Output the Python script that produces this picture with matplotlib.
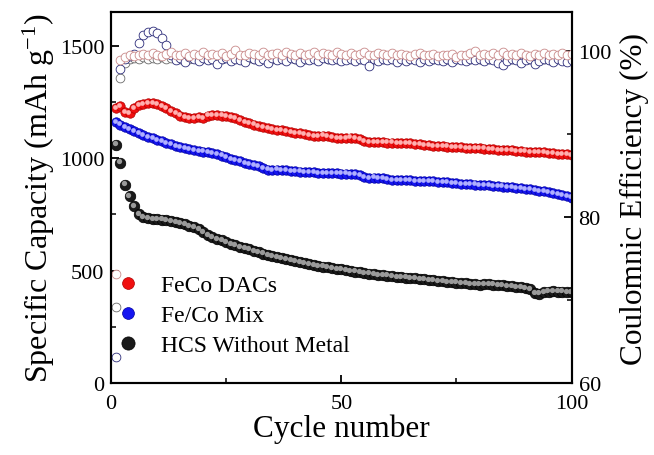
import matplotlib
matplotlib.use('Agg')
import matplotlib.pyplot as plt
import matplotlib.transforms as mtransforms
from matplotlib.ticker import MultipleLocator
import numpy as np

plt.rcParams['font.family'] = ['Liberation Serif', 'DejaVu Serif']
plt.rcParams['mathtext.fontset'] = 'custom'
plt.rcParams['mathtext.rm'] = 'Liberation Serif'
plt.rcParams['mathtext.default'] = 'regular'

cycles = np.arange(1, 101)

# 比容量 (mAh/g)
cap_feco = [1225, 1234, 1205, 1200, 1222, 1235, 1242, 1246, 1245, 1240,
            1232, 1222, 1212, 1200, 1190, 1182, 1180, 1178, 1183, 1178,
            1190, 1194, 1192, 1190, 1188, 1184, 1178, 1170, 1162, 1155,
            1150, 1144, 1138, 1134, 1130, 1127, 1124, 1120, 1118, 1114,
            1112, 1108, 1103, 1100, 1100, 1101, 1098, 1094, 1090, 1088,
            1090, 1092, 1090, 1084, 1076, 1073, 1072, 1072, 1071, 1070,
            1070, 1068, 1067, 1066, 1066, 1064, 1062, 1060, 1058, 1056,
            1054, 1053, 1052, 1050, 1049, 1048, 1047, 1046, 1045, 1044,
            1043, 1042, 1040, 1038, 1037, 1036, 1035, 1034, 1032, 1030,
            1029, 1028, 1027, 1026, 1024, 1022, 1020, 1019, 1017, 1015]

cap_mix = [1160, 1150, 1140, 1130, 1120, 1112, 1104, 1096, 1090, 1083,
           1076, 1068, 1062, 1056, 1050, 1046, 1042, 1038, 1034, 1030,
           1027, 1025, 1020, 1012, 1005, 998, 992, 986, 980, 975,
           970, 965, 958, 950, 946, 950, 948, 946, 944, 942,
           941, 940, 938, 937, 936, 935, 934, 934, 933, 932,
           932, 930, 928, 924, 916, 910, 914, 913, 910, 906,
           905, 904, 903, 902, 902, 900, 900, 899, 898, 897,
           896, 895, 893, 891, 889, 887, 885, 884, 883, 882,
           881, 880, 878, 876, 874, 872, 870, 868, 866, 864,
           862, 859, 856, 853, 850, 846, 842, 837, 831, 825]

cap_hcs = [1061, 981, 883, 830, 786, 752, 738, 732, 730, 728,
           727, 725, 722, 718, 713, 708, 700, 692, 683, 672,
           660, 650, 642, 635, 627, 619, 612, 606, 600, 594,
           588, 582, 576, 571, 566, 561, 556, 551, 546, 542,
           538, 534, 530, 526, 522, 518, 514, 511, 508, 505,
           502, 499, 496, 493, 490, 487, 484, 482, 480, 478,
           475, 473, 471, 469, 467, 465, 463, 461, 459, 457,
           455, 453, 451, 449, 447, 445, 443, 441, 440, 438,
           440, 439, 438, 436, 434, 432, 430, 428, 425, 422,
           418, 402, 398, 404, 407, 408, 407, 407, 406, 404]

# 库伦效率 (%)
ce_feco = [73.1, 98.9, 99.3, 99.5, 99.4, 99.6, 99.7, 99.5, 99.8, 99.6,
           99.4, 99.7, 99.9, 99.5, 99.6, 99.8, 99.4, 99.7, 99.6, 99.9,
           99.5, 99.7, 99.6, 99.8, 99.4, 99.7, 100.1, 99.6, 99.5, 99.8,
           99.7, 99.6, 99.9, 99.5, 99.7, 99.8, 99.6, 99.9, 99.7, 99.5,
           99.8, 99.6, 99.7, 99.9, 99.5, 99.8, 99.7, 99.6, 99.9, 99.7,
           99.5, 99.8, 99.6, 99.7, 99.9, 99.6, 99.5, 99.8, 99.7, 99.6,
           99.8, 99.5, 99.7, 99.6, 99.4, 99.7, 99.8, 99.5, 99.6, 99.7,
           99.4, 99.6, 99.5, 99.7, 99.3, 99.6, 99.5, 99.8, 100.0, 99.6,
           99.7, 99.5, 99.8, 99.6, 99.9, 99.5, 99.7, 99.6, 99.8, 99.5,
           99.4, 99.7, 99.6, 99.8, 99.5, 99.7, 99.6, 99.8, 99.5, 99.7]

ce_mix = [63.1, 97.8, 99.0, 99.4, 99.7, 101.0, 102.0, 102.3, 102.4, 102.2,
          101.6, 100.8, 99.6, 98.9, 99.2, 98.7, 99.3, 99.0, 98.8, 99.2,
          98.9, 99.1, 98.4, 99.0, 99.2, 98.8, 99.1, 98.9, 98.7, 99.3,
          99.0, 98.8, 99.1, 98.6, 99.2, 98.9, 99.0, 98.8, 99.2, 99.0,
          98.7, 99.1, 98.9, 99.0, 98.8, 99.2, 99.0, 98.9, 99.1, 98.8,
          98.9, 99.0, 98.8, 99.1, 98.9, 98.2, 99.0, 98.8, 99.1, 98.9,
          99.0, 98.7, 99.1, 98.8, 99.0, 98.9, 98.7, 99.1, 98.8, 99.0,
          98.9, 98.8, 99.1, 98.7, 99.0, 98.9, 98.8, 99.1, 98.9, 99.0,
          98.8, 99.1, 98.9, 98.6, 98.3, 98.8, 99.0, 98.9, 98.6, 98.9,
          99.1, 98.4, 98.8, 99.0, 98.9, 98.7, 99.0, 98.8, 98.7, 98.9]

ce_hcs = [69.2, 96.8, 98.6, 99.0, 99.2, 99.1, 99.3, 99.0, 99.2, 99.1,
          99.3, 99.0, 99.2, 99.1, 99.0, 99.2, 99.1, 99.3, 99.0, 99.2,
          99.1, 99.0, 99.2, 99.1, 99.3, 99.0, 99.2, 99.1, 99.0, 99.2,
          99.1, 99.3, 99.0, 99.2, 99.1, 99.0, 99.2, 99.1, 99.3, 99.0,
          99.2, 99.1, 99.0, 99.2, 99.1, 99.3, 99.0, 99.2, 99.1, 99.0,
          99.2, 99.1, 99.3, 99.0, 99.2, 99.1, 99.0, 99.2, 99.1, 99.3,
          99.0, 99.2, 99.1, 99.0, 99.2, 99.1, 99.3, 99.0, 99.2, 99.1,
          99.0, 99.2, 99.1, 99.3, 99.0, 99.2, 99.1, 99.0, 99.2, 99.1,
          99.3, 99.0, 99.2, 99.1, 99.0, 99.2, 99.1, 99.3, 99.0, 99.2,
          99.1, 99.0, 99.2, 99.1, 99.3, 99.0, 99.2, 99.1, 99.0, 99.2]

labels = ['FeCo DACs', 'Fe/Co Mix', 'HCS Without Metal']

fig = plt.figure(figsize=(6.54, 4.56), dpi=100)
ax1 = fig.add_axes([0.170, 0.158, 0.704, 0.813])
ax2 = ax1.twinx()

# 小球效果：底色圆 + 偏移的高光
hl = mtransforms.ScaledTranslation(-0.8 / 72, 0.8 / 72, fig.dpi_scale_trans)
styles = [(cap_feco, '#f01010', '#b00000', '#ffb0b0', 6.8),
          (cap_mix, '#1515f0', '#0000a0', '#b0b0ff', 6.8),
          (cap_hcs, '#1a1a1a', '#000000', '#9a9a9a', 7.6)]
handles = []
for (vals, fc, ec, hc, ms), lab in zip(styles, labels):
    h, = ax1.plot(cycles, vals, 'o', ms=ms, mfc=fc, mec=ec, mew=0.5,
                  ls='none', label=lab, zorder=3)
    ax1.plot(cycles, vals, 'o', ms=ms * 0.5, mfc=hc, mec='none',
             ls='none', zorder=4, transform=ax1.transData + hl)
    handles.append(h)

# 库伦效率：空心圆
ax2.plot(cycles, ce_hcs, 'o', ms=6.3, mfc='white', mec='#6a6a6a', mew=0.6, ls='none')
ax2.plot(cycles, ce_mix, 'o', ms=6.3, mfc='white', mec='#2c2c7a', mew=0.6, ls='none')
ax2.plot(cycles, ce_feco, 'o', ms=6.3, mfc='white', mec='#c98a8a', mew=0.6, ls='none')

ax1.set_xlim(0, 100)
ax1.set_ylim(0, 1650)
ax2.set_ylim(60, 104.7)
ax1.xaxis.set_major_locator(MultipleLocator(50))
ax1.xaxis.set_minor_locator(MultipleLocator(25))
ax1.yaxis.set_major_locator(MultipleLocator(500))
ax1.yaxis.set_minor_locator(MultipleLocator(250))
ax2.yaxis.set_major_locator(MultipleLocator(20))
ax2.yaxis.set_minor_locator(MultipleLocator(10))

for ax in (ax1, ax2):
    ax.tick_params(which='major', direction='in', length=6, width=1.3, labelsize=16, pad=5)
    ax.tick_params(which='minor', direction='in', length=3.5, width=1.1)
    for sp in ax.spines.values():
        sp.set_linewidth(1.5)
ax1.tick_params(axis='y', which='both', right=False)
ax1.tick_params(axis='x', which='both', top=False)
ax1.tick_params(axis='x', which='major', pad=8)

ax1.set_xlabel('Cycle number', fontsize=22.5, labelpad=0)
ax1.set_ylabel('Specific Capacity (mAh g$^{-1}$)', fontsize=23, labelpad=2)
ax2.set_ylabel('Coulomnic Efficiency (%)', fontsize=22.5, labelpad=6)

ax1.legend(handles=handles, loc='upper left', bbox_to_anchor=(-0.02, 0.33),
           frameon=False, fontsize=17, handletextpad=0.9, labelspacing=0.35,
           handlelength=1.0, borderaxespad=0.2, markerscale=1.25)

fig.savefig('out.png', dpi=100)
